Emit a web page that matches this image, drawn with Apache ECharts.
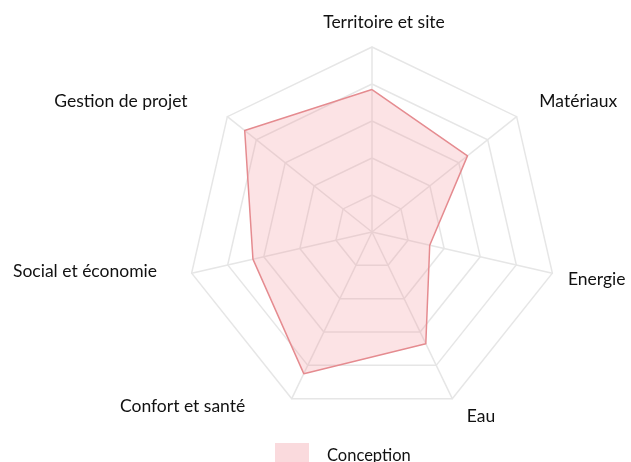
<!DOCTYPE html>
<html>
<head>
<meta charset="utf-8">
<script src="https://cdn.jsdelivr.net/npm/echarts@6/dist/echarts.min.js"></script>
<style>
html,body{margin:0;padding:0;background:#fff;}
#chart{width:631px;height:462px;}
</style>
</head>
<body>
<div id="chart"></div>
<script>
// clockwise order starting at top
const categories = ['Territoire et site', 'Matériaux', 'Energie', 'Eau', 'Confort et santé', 'Social et économie', 'Gestion de projet'];
const conceptionValues = [77, 66, 32, 67, 85, 66, 88];
const seriesName = 'Conception';
const maxValue = 100;

// per-label nudges (padding [top, right, bottom, left]) so names sit like the reference
const namePadding = [
  [0, 0, 1, 24],
  [0, 0, 12, 11],
  [6, 0, 0, 1],
  [9, 0, 0, 8],
  [0, 40, 11, 0],
  [0, 20, 10, 0],
  [0, 28, 12, 0]
];

// ECharts radar runs counter-clockwise: keep the first axis at top, reverse the rest
const order = [0].concat(categories.map((_, i) => i).slice(1).reverse());
const radarIndicators = order.map(i => ({name: categories[i], min: 0, max: maxValue}));
const radarValues = order.map(i => conceptionValues[i]);

const rich = {};
categories.forEach((c, i) => {
  rich['n' + i] = {fontFamily: 'Lato', fontSize: 17.5, color: '#111', padding: namePadding[i]};
});

const chart = echarts.init(document.getElementById('chart'), null, {renderer: 'canvas'});
chart.setOption({
  backgroundColor: '#ffffff',
  animation: false,
  legend: {
    data: [{name: seriesName, icon: 'rect', itemStyle: {color: '#fadadd', borderWidth: 0}}],
    left: 275,
    top: 443,
    padding: 0,
    itemWidth: 34,
    itemHeight: 25,
    itemStyle: {borderWidth: 0},
    lineStyle: {width: 0},
    textStyle: {fontFamily: 'Lato', fontSize: 16.5, color: '#111', padding: [0, 0, 0, 13]}
  },
  radar: {
    center: [372, 232],
    radius: 185,
    startAngle: 90,
    splitNumber: 5,
    shape: 'polygon',
    nameGap: 15,
    axisName: {
      fontFamily: 'Lato', fontSize: 17.5, color: '#111',
      formatter: function (name) {
        const i = categories.indexOf(name);
        return '{n' + i + '|' + name + '}';
      },
      rich: rich
    },
    axisLine: {lineStyle: {color: '#e6e6e6', width: 1.5}},
    splitLine: {lineStyle: {color: '#e6e6e6', width: 1.5}},
    splitArea: {show: false},
    axisTick: {show: false},
    axisLabel: {show: false},
    indicator: radarIndicators
  },
  series: [{
    type: 'radar',
    name: seriesName,
    symbol: 'none',
    lineStyle: {color: '#e38a8e', width: 1.5},
    itemStyle: {color: '#e38a8e'},
    areaStyle: {color: 'rgba(242,150,156,0.38)'},
    data: [{value: radarValues, name: seriesName}]
  }]
});
</script>
</body>
</html>
